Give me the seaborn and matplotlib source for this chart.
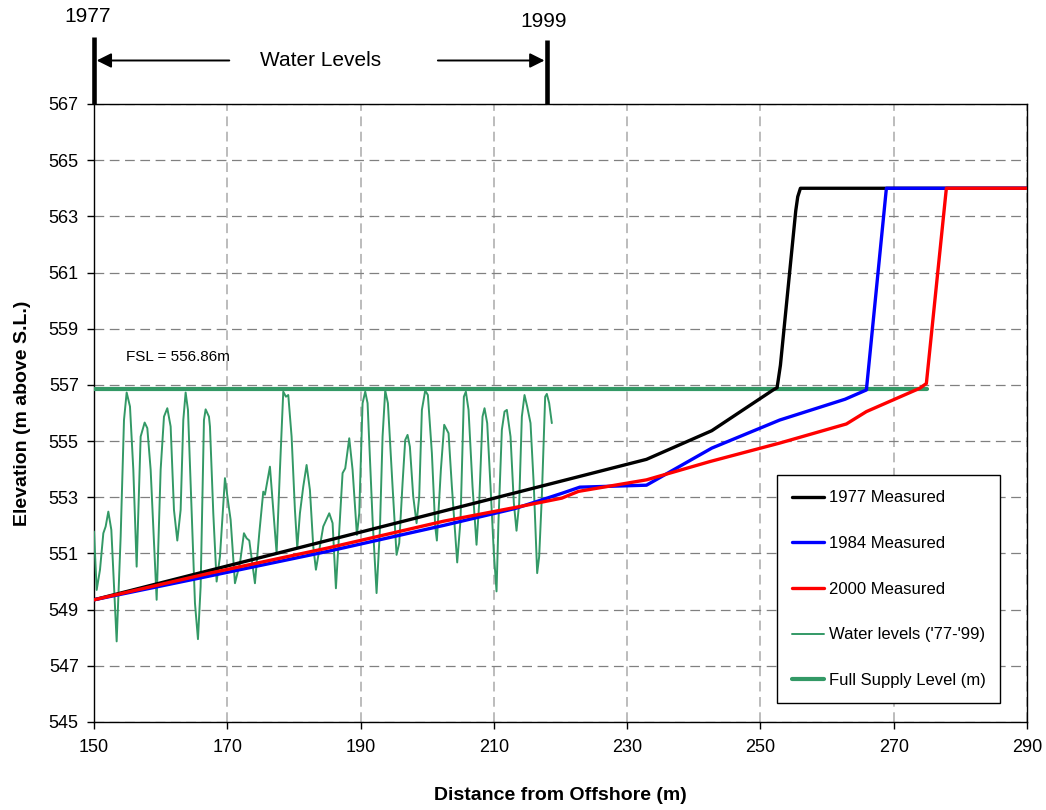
import matplotlib
matplotlib.use("Agg")
import matplotlib.pyplot as plt
import matplotlib.transforms as mtransforms
import seaborn as sns
import pandas as pd

# ---------------- data ----------------
x_1977 = [150.0, 213.9, 232.9, 242.7, 251.9, 252.5, 253.0, 255.3, 255.6, 256.0, 290.0]
y_1977 = [549.35, 553.20, 554.35, 555.37, 556.82, 556.90, 557.70, 563.20, 563.70, 564.0, 564.0]

x_1984 = [150.0, 167.4, 185.0, 202.5, 213.2, 220.2, 222.9, 232.9, 242.7, 252.9, 262.7, 265.9, 268.9, 290.0]
y_1984 = [549.35, 550.20, 551.07, 552.00, 552.60, 553.14, 553.36, 553.43, 554.75, 555.75, 556.49, 556.82, 564.0, 564.0]

x_2000 = [150.0, 167.4, 185.0, 202.5, 213.9, 220.2, 222.7, 232.9, 242.4, 252.9, 262.9, 265.9, 273.9, 274.9, 277.9, 290.0]
y_2000 = [549.35, 550.30, 551.19, 552.15, 552.67, 552.97, 553.21, 553.62, 554.27, 554.93, 555.61, 556.05, 556.88, 557.05, 564.0, 564.0]

wl_x = [150.0, 150.4, 150.9, 151.4, 151.75, 152.15, 152.6, 153.4, 154.0, 154.5, 154.9, 155.4,
        155.9, 156.4, 157.0, 157.6, 158.0, 158.5, 159.4, 160.0, 160.5, 161.0, 161.5, 162.0,
        162.5, 163.0, 163.4, 163.75, 164.1, 164.6, 165.15, 165.6, 166.0, 166.5, 166.75, 167.25,
        167.4, 167.9, 168.4, 168.9, 169.65, 170.15, 170.5, 171.15, 171.9, 172.5, 172.9, 173.3,
        174.15, 174.8, 175.4, 175.65, 176.4, 176.9, 177.4, 177.9, 178.4, 178.8, 179.15, 179.65,
        180.15, 180.5, 180.9, 181.4, 181.9, 182.4, 182.9, 183.3, 183.8, 184.4, 185.3, 185.8,
        186.3, 186.8, 187.3, 187.7, 188.3, 188.8, 189.45, 189.8, 190.3, 190.7, 191.05, 191.8,
        192.4, 192.9, 193.3, 193.7, 194.1, 194.8, 195.4, 195.8, 196.3, 196.7, 197.05, 197.4,
        197.9, 198.4, 198.8, 199.2, 199.7, 200.1, 200.7, 201.2, 201.45, 202.05, 202.55, 203.2,
        203.7, 204.5, 205.0, 205.5, 205.8, 206.2, 206.8, 207.4, 207.8, 208.3, 208.6, 209.0,
        209.5, 210.0, 210.4, 210.7, 211.2, 211.6, 211.95, 212.5, 213.0, 213.4, 213.8, 214.2,
        214.6, 215.0, 215.5, 216.0, 216.5, 216.8, 217.2, 217.7, 217.95, 218.3, 218.7]
wl_y = [551.78, 549.70, 550.42, 551.72, 551.96, 552.49, 551.84, 547.87, 551.60, 555.75, 556.73, 556.23,
        553.98, 550.53, 555.16, 555.66, 555.46, 553.98, 549.35, 553.98, 555.87, 556.17, 555.52, 552.55,
        551.46, 552.55, 555.75, 556.73, 556.11, 552.79, 549.23, 547.95, 549.82, 555.75, 556.13, 555.87,
        555.52, 552.43, 550.00, 550.89, 553.68, 552.79, 552.20, 549.94, 550.65, 551.72, 551.54, 551.46,
        549.94, 551.72, 553.20, 553.09, 554.09, 552.55, 551.01, 553.98, 556.76, 556.58, 556.64, 555.16,
        552.55, 551.19, 552.43, 553.38, 554.15, 553.26, 551.25, 550.42, 551.13, 551.96, 552.43, 552.08,
        549.76, 551.84, 553.86, 554.03, 555.10, 553.98, 551.66, 552.43, 556.35, 556.76, 556.35, 552.20,
        549.59, 551.84, 555.16, 556.80, 556.35, 553.38, 550.95, 551.37, 553.50, 555.04, 555.22, 554.80,
        553.03, 552.08, 553.03, 556.11, 556.80, 556.64, 554.57, 551.96, 551.46, 553.98, 555.58, 555.28,
        553.38, 550.68, 552.20, 556.58, 556.76, 556.11, 553.38, 551.31, 552.79, 555.87, 556.17, 555.64,
        553.38, 551.01, 549.65, 552.20, 555.40, 556.05, 556.11, 555.16, 552.79, 551.81, 552.79, 555.87,
        556.64, 556.23, 555.64, 553.38, 550.30, 550.89, 553.03, 556.58, 556.68, 556.35, 555.64]

fsl_x = [150.0, 275.0]
fsl_y = [556.86, 556.86]

x_ticks = [150, 170, 190, 210, 230, 250, 270, 290]
y_ticks = [545, 547, 549, 551, 553, 555, 557, 559, 561, 563, 565, 567]

labels = ["1977 Measured", "1984 Measured", "2000 Measured", "Water levels ('77-'99)", "Full Supply Level (m)"]

# ---------------- style ----------------
sns.set_style("white")
plt.rcParams['font.family'] = ['Liberation Sans', 'DejaVu Sans']
plt.rcParams['lines.scale_dashes'] = False
for k in ['text.color', 'axes.labelcolor', 'xtick.color', 'ytick.color']:
    plt.rcParams[k] = 'black'

GREEN = "#339966"

fig = plt.figure(figsize=(10.46, 8.10), dpi=100)
ax = fig.add_axes([94 / 1046, 1 - 722 / 810, 933 / 1046, 618 / 810])

df77 = pd.DataFrame({"x": x_1977, "y": y_1977})
df84 = pd.DataFrame({"x": x_1984, "y": y_1984})
df00 = pd.DataFrame({"x": x_2000, "y": y_2000})
dfwl = pd.DataFrame({"x": wl_x, "y": wl_y})
dffsl = pd.DataFrame({"x": fsl_x, "y": fsl_y})

sns.lineplot(data=dfwl, x="x", y="y", ax=ax, sort=False, estimator=None, color=GREEN, lw=1.4, label=labels[3], zorder=3)
sns.lineplot(data=dffsl, x="x", y="y", ax=ax, sort=False, estimator=None, color=GREEN, lw=3.0, label=labels[4], zorder=3)
sns.lineplot(data=df77, x="x", y="y", ax=ax, sort=False, estimator=None, color="black", lw=2.4, label=labels[0], zorder=4)
sns.lineplot(data=df84, x="x", y="y", ax=ax, sort=False, estimator=None, color="#0000FF", lw=2.4, label=labels[1], zorder=5)
sns.lineplot(data=df00, x="x", y="y", ax=ax, sort=False, estimator=None, color="#FF0000", lw=2.4, label=labels[2], zorder=6)

ax.set_xlim(150, 290)
ax.set_ylim(545, 567)
ax.set_xticks(x_ticks)
ax.set_yticks(y_ticks)
ax.tick_params(axis='both', which='major', labelsize=13, length=5, width=1, color='black',
               labelcolor='black', direction='out', left=True, bottom=True)
ax.tick_params(axis='x', pad=7)
ax.tick_params(axis='y', pad=6)

# grid
ax.set_axisbelow(True)
ax.yaxis.grid(True, color='#808080', lw=0.9, linestyle=(0, (7, 4)))
ax.xaxis.grid(True, color='#b0b0b0', lw=1.2, linestyle=(0, (7, 4)))

for s in ax.spines.values():
    s.set_visible(True)
    s.set_color('black')
    s.set_linewidth(1.0)

ax.set_xlabel("Distance from Offshore (m)", fontsize=14, fontweight='bold')
ax.set_ylabel("Elevation (m above S.L.)", fontsize=14, fontweight='bold')
ax.xaxis.set_label_coords(0.5, -0.105)
ax.yaxis.set_label_coords(-0.068, 0.5)

# FSL text
ax.text(154.8, 558.0, "FSL = 556.86m", fontsize=11, ha='left', va='center')

# legend
h, l = ax.get_legend_handles_labels()
hd = dict(zip(l, h))
leg = ax.legend([hd[t] for t in labels], labels, loc='lower left', bbox_to_anchor=(0.732, 0.0307),
                fontsize=12, frameon=True, fancybox=False, edgecolor='black', framealpha=1,
                labelspacing=1.84, borderpad=0.9, handlelength=1.95, handletextpad=0.25,
                borderaxespad=0)
leg.get_frame().set_linewidth(1.0)

# top annotation (above the axes)
trans = mtransforms.blended_transform_factory(ax.transData, ax.transAxes)
ax.plot([150, 150], [1.0, 1.108], transform=trans, color='black', lw=3.3, clip_on=False, solid_capstyle='butt')
ax.plot([218, 218], [1.0, 1.104], transform=trans, color='black', lw=3.3, clip_on=False, solid_capstyle='butt')
ax.annotate('', xy=(150.4, 1.0704), xytext=(170.3, 1.0704), xycoords=trans, textcoords=trans,
            arrowprops=dict(arrowstyle='-|>', lw=1.4, color='black', mutation_scale=22, shrinkA=0, shrinkB=0),
            annotation_clip=False)
ax.annotate('', xy=(217.6, 1.0704), xytext=(201.6, 1.0704), xycoords=trans, textcoords=trans,
            arrowprops=dict(arrowstyle='-|>', lw=1.4, color='black', mutation_scale=22, shrinkA=0, shrinkB=0),
            annotation_clip=False)
ax.text(184.0, 1.0704, "Water Levels", transform=trans, fontsize=15, ha='center', va='center', clip_on=False)
ax.text(149.0, 1.141, "1977", transform=trans, fontsize=15, ha='center', va='center', clip_on=False)
ax.text(217.5, 1.133, "1999", transform=trans, fontsize=15, ha='center', va='center', clip_on=False)

fig.savefig("out.png", dpi=100)
